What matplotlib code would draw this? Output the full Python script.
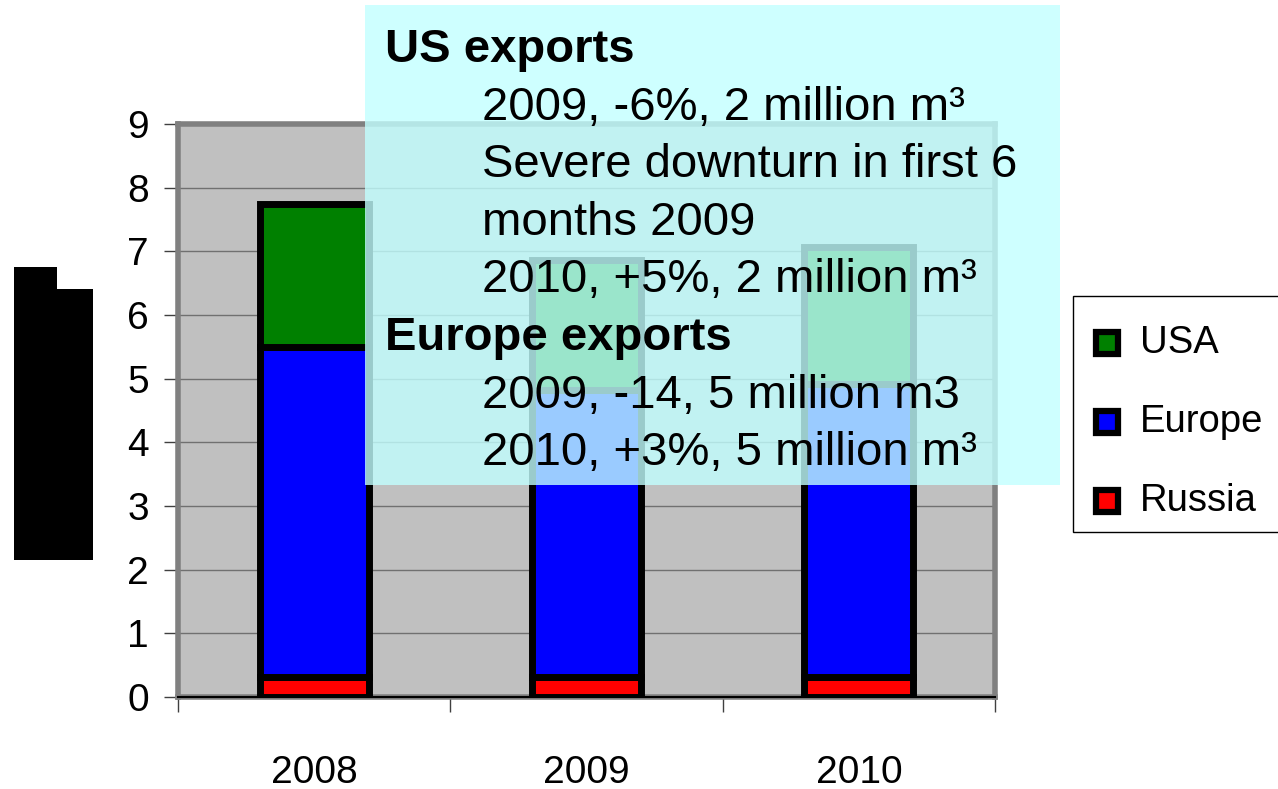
import matplotlib
matplotlib.use("Agg")
import matplotlib.pyplot as plt
import numpy as np
from matplotlib.patches import Rectangle

plt.rcParams["font.family"] = ["Liberation Sans", "DejaVu Sans"]

# ---- data -------------------------------------------------------------
years = ["2008", "2009", "2010"]
russia = [0.32, 0.32, 0.32]
europe = [5.18, 4.50, 4.59]
usa = [2.25, 2.04, 2.16]
y_ticks = list(range(0, 10))

series_names = ["Russia", "Europe", "USA"]
series_colors = ["#ff0000", "#0000ff", "#008000"]

note_lines = [
    ("US exports", True),
    ("2009, -6%, 2 million m\u00b3", False),
    ("Severe downturn in first 6", False),
    ("months 2009", False),
    ("2010, +5%, 2 million m\u00b3", False),
    ("Europe exports", True),
    ("2009, -14, 5 million m3", False),
    ("2010, +3%, 5 million m\u00b3", False),
]

# ---- figure -----------------------------------------------------------
W, H = 1278, 789
fig = plt.figure(figsize=(W / 100, H / 100), dpi=100)
fig.patch.set_facecolor("white")


def fx(px):
    return px / W


def fy(py):
    return 1 - py / H


ax = fig.add_axes([fx(178), fy(697), fx(995) - fx(178), fy(124) - fy(697)])
ax.set_facecolor("#c0c0c0")
for s in ax.spines.values():
    s.set_color("#808080")
    s.set_linewidth(4.0)

x = np.arange(len(years))
bar_w = 0.4
bottom = np.zeros(len(years))
for vals, color in zip([russia, europe, usa], series_colors):
    ax.bar(x, vals, bar_w, bottom=bottom, color=color, edgecolor="black",
           linewidth=5.0, zorder=3)
    bottom = bottom + np.array(vals)

ax.set_xlim(-0.5, len(years) - 0.5)
ax.set_ylim(0, 9)
ax.set_yticks(y_ticks)
ax.set_yticklabels([str(t) for t in y_ticks])
ax.yaxis.grid(True, color="#707070", linewidth=1.0, zorder=1)
ax.set_axisbelow(True)
ax.tick_params(axis="y", length=10, width=1.0, color="#404040", pad=11,
               labelsize=28, direction="out")

ax.set_xticks(x)
ax.set_xticklabels(years)
ax.set_xticks(np.arange(-0.5, len(years)), minor=True)
ax.tick_params(axis="x", which="major", length=0, pad=42, labelsize=28)
ax.tick_params(axis="x", which="minor", length=11, width=1.0,
               color="#404040", direction="out")
ax.axhline(0, color="black", linewidth=1.5, zorder=4, clip_on=False)

# ---- y-axis label block -----------------------------------------------
for (x0, y0, x1, y1) in [(14, 267, 57, 560), (57, 289, 93, 560)]:
    fig.patches.append(Rectangle((fx(x0), fy(y1)), fx(x1) - fx(x0),
                                 fy(y0) - fy(y1), transform=fig.transFigure,
                                 facecolor="black", edgecolor="none"))

# ---- annotation panel -------------------------------------------------
panel = Rectangle((fx(365), fy(485)), fx(1060) - fx(365), fy(5) - fy(485),
                  transform=fig.transFigure, facecolor="#c2ffff",
                  alpha=0.8, edgecolor="none", zorder=5)
fig.patches.append(panel)

baseline = 62
for text, is_head in note_lines:
    fig.text(fx(385 if is_head else 482), fy(baseline), text,
             fontsize=34, fontweight="bold" if is_head else "normal",
             va="baseline", ha="left", zorder=6)
    baseline += 57.6

# ---- legend -----------------------------------------------------------
frame = Rectangle((fx(1073), fy(532)), fx(1300) - fx(1073), fy(296) - fy(532),
                  transform=fig.transFigure, facecolor="white",
                  edgecolor="black", linewidth=1.0, zorder=5)
fig.patches.append(frame)
entry_y = 343
for name, color in zip(series_names[::-1], series_colors[::-1]):
    fig.patches.append(Rectangle((fx(1096), fy(entry_y + 11)), fx(22), 22 / H,
                                 transform=fig.transFigure, facecolor=color,
                                 edgecolor="black", linewidth=4.5, zorder=6))
    fig.text(fx(1140), fy(entry_y), name, fontsize=27.5, va="center",
             ha="left", zorder=6)
    entry_y += 79

fig.savefig("out.png", dpi=100)
